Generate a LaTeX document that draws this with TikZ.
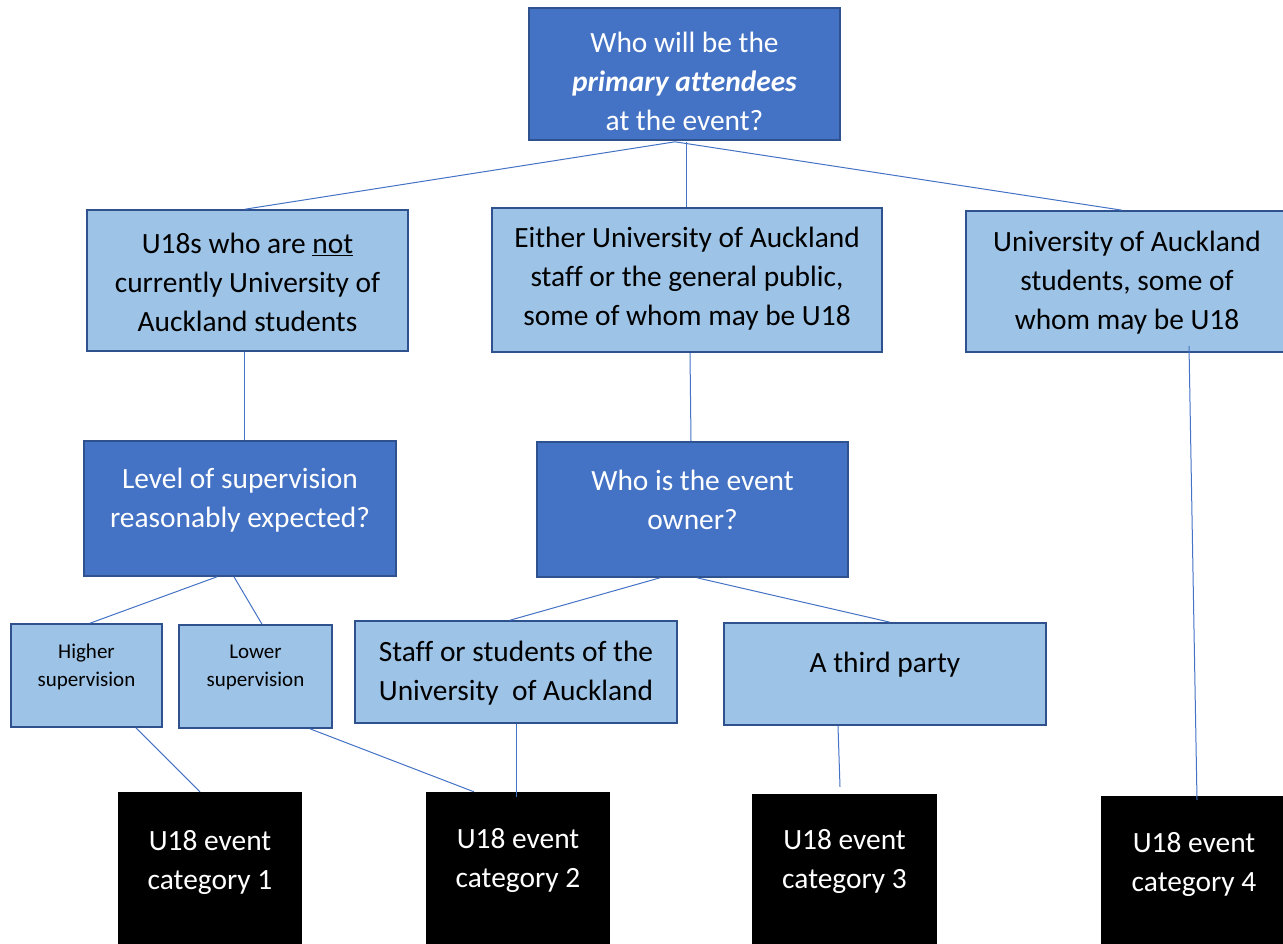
\documentclass[tikz,border=0pt]{standalone}
\usepackage{fontspec}
\setmainfont{Carlito}[Ligatures=NoCommon]
\usetikzlibrary{calc}
\definecolor{darkfill}{HTML}{4472C4}
\definecolor{lightfill}{HTML}{9DC3E6}
\definecolor{edgeblue}{HTML}{2F528F}
\definecolor{linkblue}{HTML}{4472C4}
\tikzset{
  boxbase/.style={rectangle, inner sep=0pt, line width=1.6pt, draw=edgeblue},
  darkbox/.style={boxbase, fill=darkfill},
  lightbox/.style={boxbase, fill=lightfill},
  blackbox/.style={rectangle, inner sep=0pt, fill=black},
  bigtext/.style={align=center, inner sep=0pt, font=\fontsize{29.4}{39}\selectfont},
  smalltext/.style={align=center, inner sep=0pt, font=\fontsize{21}{28}\selectfont},
  whitetext/.style={bigtext, text=white},
  link/.style={draw=linkblue, line width=1pt}
}
\begin{document}
\begin{tikzpicture}[x=1pt,y=-1pt]
\useasboundingbox (0,0) rectangle (1283,943);
% boxes
\node[darkbox, minimum width=311, minimum height=132] (T) at (684.5,74) {};
\node[lightbox, minimum width=321, minimum height=141] (A) at (247.5,280.5) {};
\node[lightbox, minimum width=390, minimum height=144] (B) at (687,280) {};
\node[lightbox, minimum width=320, minimum height=141] (C) at (1126,281.5) {};
\node[darkbox, minimum width=312, minimum height=135] (D) at (240,508.5) {};
\node[darkbox, minimum width=311, minimum height=135] (E) at (692.5,509.5) {};
\node[lightbox, minimum width=151, minimum height=103] (F) at (86.5,675.5) {};
\node[lightbox, minimum width=153, minimum height=103] (G) at (255.5,676.5) {};
\node[lightbox, minimum width=322, minimum height=102] (H) at (516,672) {};
\node[lightbox, minimum width=322, minimum height=102] (I) at (885,674) {};
\node[blackbox, minimum width=184, minimum height=152] (K1) at (210,868) {};
\node[blackbox, minimum width=184, minimum height=152] (K2) at (518,868) {};
\node[blackbox, minimum width=185, minimum height=150] (K3) at (844.5,869) {};
\node[blackbox, minimum width=182, minimum height=148] (K4) at (1192,870) {};
% texts
\node[whitetext] (tT) at (684.5,81) {Who will be the\\\textbf{\textit{primary attendees}}\\at the event?};
\node[bigtext] (tA) at (247.5,282) {U18s who are \underline{not}\\currently University of\\Auckland students};
\node[bigtext] (tB) at (687,279) {Either University of Auckland\\staff or the general public,\\some of whom may be U18};
\node[bigtext] (tC) at (1127,283) {University of Auckland\\students, some of\\whom may be U18};
\node[whitetext] (tD) at (240,500) {Level of supervision\\reasonably expected?};
\node[whitetext] (tE) at (692.5,500) {Who is the event\\owner?};
\node[smalltext] (tF) at (86.5,667) {Higher\\supervision};
\node[smalltext] (tG) at (255.5,667) {Lower\\supervision};
\node[bigtext] (tH) at (516,673) {Staff or students of the\\University\ \ of Auckland};
\node[bigtext] (tI) at (885,665) {A third party};
\node[whitetext] (tK1) at (210,862) {U18 event\\category 1};
\node[whitetext] (tK2) at (518,860) {U18 event\\category 2};
\node[whitetext] (tK3) at (844.5,861) {U18 event\\category 3};
\node[whitetext] (tK4) at (1194,864) {U18 event\\category 4};
% connectors
\draw[link] ($(T.south)+(-9.5,1)$) -- ($(A.north)+(-2.5,0)$);
\draw[link] ($(T.south)+(1.5,1)$) -- ($(B.north)+(-1,0)$);
\draw[link] ($(T.south)+(-9.5,1)$) -- ($(C.north)+(-4,0)$);
\draw[link] ($(A.south)+(-3.5,0)$) -- ($(D.north)+(4,0)$);
\draw[link] ($(B.south)+(3,0)$) -- ($(E.north)+(-1.5,0)$);
\draw[link] ($(C.south)+(63,-7)$) -- ($(K4.north)+(5,4)$);
\draw[link] ($(D.south)+(-23,0)$) -- ($(F.north)+(3.5,0)$);
\draw[link] ($(D.south)+(-6,0)$) -- ($(G.north)+(6.5,0)$);
\draw[link] ($(E.south)+(-32.5,0)$) -- ($(H.north)+(-6,0)$);
\draw[link] ($(E.south)+(4.5,0)$) -- ($(I.north)+(5,0)$);
\draw[link] ($(F.south)+(49.5,0)$) -- ($(K1.north)+(-10,0)$);
\draw[link] ($(G.south)+(54.5,0)$) -- ($(K2.north)+(-44,0)$);
\draw[link] (H.south) -- ($(K2.north)+(-2,5)$);
\draw[link] ($(I.south)+(-47,0)$) -- ($(K3.north)+(-4.5,-7)$);
\end{tikzpicture}
\end{document}
